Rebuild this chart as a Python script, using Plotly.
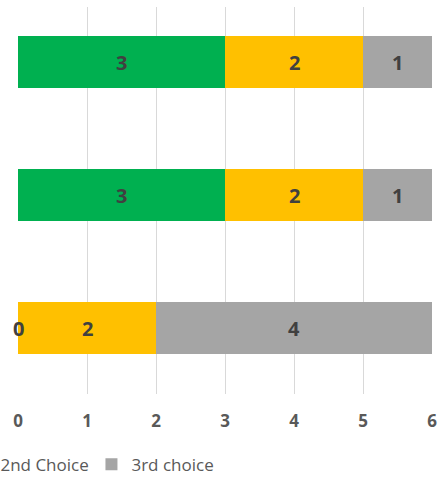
import plotly.graph_objects as go

categories = ["Option C", "Option B", "Option A"]  # bottom to top
series_names = ["1st choice", "2nd Choice", "3rd choice"]
first_choice = [0, 3, 3]
second_choice = [2, 2, 2]
third_choice = [4, 1, 1]
colors = ["#00B050", "#FFC000", "#A5A5A5"]
x_ticks = [0, 1, 2, 3, 4, 5, 6]

series = [first_choice, second_choice, third_choice]
# the "1st choice" legend entry lies outside the visible crop of the reference
legend_visible = [False, True, True]

W, H = 448, 477
ml, mr, mt, mb = 18, 16, 7, 83
FONT = "Open Sans"

fig = go.Figure()
for name, vals, col, lv in zip(series_names, series, colors, legend_visible):
    fig.add_trace(go.Bar(
        y=categories, x=vals, name=name, orientation="h",
        marker=dict(color=col, line=dict(width=0)),
        width=0.39, showlegend=lv,
    ))

# data labels at segment centres (including zero-width segments)
annotations = []
for i, cat in enumerate(categories):
    base = 0
    for vals in series:
        v = vals[i]
        annotations.append(dict(
            x=base + v / 2, y=cat, xref="x", yref="y", text=str(v),
            showarrow=False, font=dict(family=FONT, size=20, color="#404040", weight="bold"),
        ))
        base += v

fig.update_layout(
    width=W, height=H,
    margin=dict(l=ml, r=mr, t=mt, b=mb, pad=0, autoexpand=False),
    barmode="stack",
    plot_bgcolor="white", paper_bgcolor="white",
    showlegend=True,
    legend=dict(orientation="h", x=-0.139, xanchor="left", y=-0.183, yanchor="middle",
                font=dict(family=FONT, size=17, color="#595959"),
                itemwidth=30, entrywidth=86, tracegroupgap=0, traceorder="normal"),
    annotations=annotations,
    xaxis=dict(range=[0, 6], tickvals=x_ticks, showgrid=True, gridcolor="#D9D9D9", gridwidth=1,
               zeroline=False, showline=False, ticks="",
               tickfont=dict(family=FONT, size=17, color="#595959", weight="bold"),
               ticklabelstandoff=15),
    yaxis=dict(range=[-0.496, 2.414], showticklabels=False, showgrid=False, zeroline=False,
               showline=False, ticks=""),
    bargap=0.6,
)

fig.write_html("out.html", config={"displayModeBar": False},
               post_script="document.body.style.margin='0';")
